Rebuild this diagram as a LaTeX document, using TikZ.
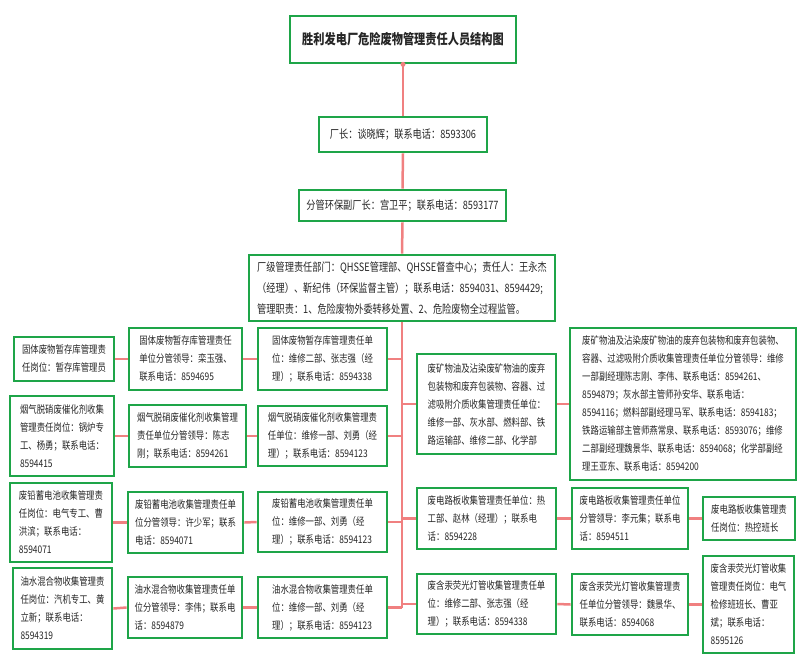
\documentclass[tikz,border=0pt]{standalone}
\usepackage{fontspec}
\setmainfont[FakeStretch=0.8]{Noto Sans CJK SC}
\definecolor{boxgreen}{RGB}{30,165,72}
\definecolor{linkred}{RGB}{240,128,128}
\definecolor{txt}{RGB}{38,38,38}
\tikzset{
  box/.style={draw=boxgreen, line width=2.7pt, fill=white, text=txt, align=left,
    inner sep=0pt, font=\fontsize{10.5}{18}\selectfont},
  bigbox/.style={box, font=\fontsize{11.5}{21}\selectfont},
  titlebox/.style={box, font=\fontsize{14}{18}\selectfont\bfseries},
  link/.style={draw=linkred, line width=2.5pt}
}
\begin{document}
\begin{tikzpicture}[x=1pt,y=-1pt]
\useasboundingbox[fill=white] (0,0) rectangle (803,664);
% top chain
\node[titlebox, minimum width=226pt, minimum height=47pt] (title) at (403,39.5) {胜利发电厂危险废物管理责任人员结构图};
\node[bigbox, minimum width=168pt, minimum height=35pt] (boss) at (403,134.5) {厂长：谈晓辉；联系电话：8593306};
\node[bigbox, minimum width=207pt, minimum height=31pt] (vice) at (402.5,205.5) {分管环保副厂长：宫卫平；联系电话：8593177};
\node[bigbox, minimum width=306pt, minimum height=66pt] (dept) at (402,288) {厂级管理责任部门：QHSSE管理部、QHSSE督查中心；责任人：王永杰\\（经理）、靳纪伟（环保监督主管）；联系电话：8594031、8594429;\\管理职责：1、危险废物外委转移处置、2、危险废物全过程监管。};
% left column C
\node[box, minimum width=129pt, minimum height=62pt] (C1) at (322.5,359) {固体废物暂存库管理责任单\\位：维修二部、张志强（经\\理）；联系电话：8594338};
\node[box, minimum width=129pt, minimum height=60pt] (C2) at (322.5,436) {烟气脱硝废催化剂收集管理责\\任单位：维修一部、刘勇（经\\理）；联系电话：8594123};
\node[box, minimum width=129pt, minimum height=60pt] (C3) at (322.5,522) {废铅蓄电池收集管理责任单\\位：维修一部、刘勇（经\\理）；联系电话：8594123};
\node[box, minimum width=129pt, minimum height=61pt] (C4) at (322.5,607.5) {油水混合物收集管理责任单\\位：维修一部、刘勇（经\\理）；联系电话：8594123};
% column B
\node[box, minimum width=113pt, minimum height=62pt] (B1) at (185.5,359) {固体废物暂存库管理责任\\单位分管领导：栾玉强、\\联系电话：8594695};
\node[box, minimum width=117pt, minimum height=62pt] (B2) at (187.5,436) {烟气脱硝废催化剂收集管理\\责任单位分管领导：陈志\\刚；联系电话：8594261};
\node[box, minimum width=115pt, minimum height=61pt] (B3) at (185.5,522.5) {废铅蓄电池收集管理责任单\\位分管领导：许少军；联系\\电话：8594071};
\node[box, minimum width=114pt, minimum height=61pt] (B4) at (185,607.5) {油水混合物收集管理责任单\\位分管领导：李伟；联系电\\话：8594879};
% column A
\node[box, minimum width=100pt, minimum height=44pt] (A1) at (64,359) {固体废物暂存库管理责\\任岗位：暂存库管理员};
\node[box, minimum width=104pt, minimum height=80pt] (A2) at (62,436) {烟气脱硝废催化剂收集\\管理责任岗位：锅炉专\\工、杨勇；联系电话：\\8594415};
\node[box, minimum width=102pt, minimum height=79pt] (A3) at (61,522.5) {废铅蓄电池收集管理责\\任岗位：电气专工、曹\\洪滨；联系电话：\\8594071};
\node[box, minimum width=99pt, minimum height=81pt] (A4) at (62.5,608.5) {油水混合物收集管理责\\任岗位：汽机专工、黄\\立新；联系电话：\\8594319};
% right column D
\node[box, minimum width=139pt, minimum height=100pt] (D1) at (486.5,404) {废矿物油及沾染废矿物油的废弃\\包装物和废弃包装物、容器、过\\滤吸附介质收集管理责任单位：\\维修一部、灰水部、燃料部、铁\\路运输部、维修二部、化学部};
\node[box, minimum width=139pt, minimum height=61pt] (D2) at (486.5,518.5) {废电路板收集管理责任单位：热\\工部、赵林（经理）；联系电\\话：8594228};
\node[box, minimum width=139pt, minimum height=60pt] (D3) at (486.5,604) {废含汞荧光灯管收集管理责任单\\位：维修二部、张志强（经\\理）；联系电话：8594338};
% column E
\node[box, minimum width=226pt, minimum height=152pt] (E1) at (683,404) {废矿物油及沾染废矿物油的废弃包装物和废弃包装物、\\容器、过滤吸附介质收集管理责任单位分管领导：维修\\一部副经理陈志刚、李伟、联系电话：8594261、\\8594879；灰水部主管师孙安华、联系电话：\\8594116；燃料部副经理马军、联系电话：8594183；\\铁路运输部主管师燕常泉、联系电话：8593076；维修\\二部副经理魏景华、联系电话：8594068；化学部副经\\理王亚东、联系电话：8594200};
\node[box, minimum width=116pt, minimum height=61pt] (E2) at (630,518.5) {废电路板收集管理责任单位\\分管领导：李元集；联系电\\话：8594511};
\node[box, minimum width=116pt, minimum height=61pt] (E3) at (630,604.5) {废含汞荧光灯管收集管理责\\任单位分管领导：魏景华、\\联系电话：8594068};
% column F
\node[box, minimum width=92pt, minimum height=43pt] (F2) at (749,518.5) {废电路板收集管理责\\任岗位：热控班长};
\node[box, minimum width=91pt, minimum height=97pt] (F3) at (748.5,604.5) {废含汞荧光灯管收集\\管理责任岗位：电气\\检修班班长、曹亚\\斌；联系电话：\\8595126};
% connectors
\coordinate (bus) at (dept.south);
\coordinate (busend) at (402,607.5);
\draw[link] (title.south) -- (boss.north);
\draw[link] (boss.south) -- (vice.north);
\draw[link] (vice.south) -- (dept.north);
\draw[link] (bus) -- (busend);
\fill[linkred] (title.south) circle (2.5pt);
\foreach \n in {C1,C2,C3,C4}{
  \draw[link] (\n.east) -- (\n.east -| bus);
}
\foreach \n in {D1,D2,D3}{
  \draw[link] (\n.west -| bus) -- (\n.west);
}
\foreach \a/\b in {B1/C1,B2/C2,B3/C3,B4/C4,A1/B1,A2/B2,A3/B3,A4/B4,D1/E1,D2/E2,D3/E3,E2/F2,E3/F3}{
  \draw[link] (\a.east) -- (\b.west);
}
\end{tikzpicture}
\end{document}
